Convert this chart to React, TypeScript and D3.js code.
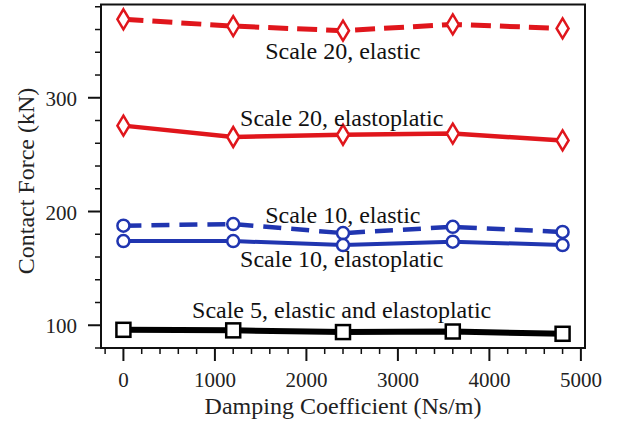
import React from "react";
import * as d3 from "d3";

const damping = [0, 1200, 2400, 3600, 4800];
const s20Elastic = [369, 363, 359, 364.5, 361];
const s20Elastoplastic = [275.5, 265.5, 267.5, 268.5, 262.5];
const s10Elastic = [187.5, 189, 181, 186.5, 182];
const s10Elastoplastic = [174, 174, 170.5, 173.5, 170.5];
const s5Both = [96, 95.5, 94, 94.5, 92.5];

const xTicks = [0, 1000, 2000, 3000, 4000, 5000];
const yTicks = [100, 200, 300];

const labels = ["Scale 20, elastic", "Scale 20, elastoplatic", "Scale 10, elastic", "Scale 10, elastoplatic", "Scale 5, elastic and elastoplatic"];
const labelX = [1550, 1275, 1550, 1275, 750];
const labelY = [334.5, 275, 189.5, 151, 106];

const W = 624, H = 426;
const left = 101, right = 585, top = 4.5, bottom = 348;
const FONT = "Liberation Serif, Tinos, Times New Roman, Times, serif";
const RED = "#e0161c";
const BLUE = "#2035b0";

export default function App() {
  const x = d3.scaleLinear().domain([-245, 5045]).range([left, right]);
  const y = d3.scaleLinear().domain([80, 382]).range([bottom, top]);
  const line = d3.line<number>().x((_, i) => x(damping[i])).y((v) => y(v));

  const xMinor = d3.range(-200, 5001, 200).filter((v) => v % 1000 !== 0);
  const yMinor = d3.range(80, 381, 20).filter((v) => v % 100 !== 0);

  const series = [
    { data: s20Elastic, color: RED, dash: "20 9", width: 5, marker: "diamond" },
    { data: s20Elastoplastic, color: RED, dash: null, width: 4.5, marker: "diamond" },
    { data: s10Elastic, color: BLUE, dash: "18 10", width: 4.5, marker: "circle" },
    { data: s10Elastoplastic, color: BLUE, dash: null, width: 4, marker: "circle" },
    { data: s5Both, color: "#000", dash: null, width: 6, marker: "square" },
  ];

  const marker = (type: string, cx: number, cy: number, color: string, key: string) => {
    if (type === "diamond") {
      const p = `M${cx},${cy - 10} L${cx + 6},${cy} L${cx},${cy + 10} L${cx - 6},${cy} Z`;
      return <path key={key} d={p} fill="#fff" stroke={color} strokeWidth={2.5} />;
    }
    if (type === "circle") {
      return <circle key={key} cx={cx} cy={cy} r={6} fill="#fff" stroke={color} strokeWidth={2.5} />;
    }
    return <rect key={key} x={cx - 7} y={cy - 7} width={14} height={14} fill="#fff" stroke={color} strokeWidth={2.5} />;
  };

  return (
    <svg width={W} height={H} style={{ position: "absolute", left: 0, top: 0, background: "#fff", fontFamily: FONT }}>
      <rect x={0} y={0} width={W} height={H} fill="#fff" />
      {series.map((s, si) => (
        <g key={si}>
          <path d={line(s.data) || ""} fill="none" stroke={s.color} strokeWidth={s.width} strokeDasharray={s.dash || undefined} />
          {s.data.map((v, i) => marker(s.marker, x(damping[i]), y(v), s.color, `${si}-${i}`))}
        </g>
      ))}
      {labels.map((t, i) => (
        <text key={t} x={x(labelX[i])} y={y(labelY[i])} fontSize={24} fill="#111">{t}</text>
      ))}
      <rect x={left} y={top} width={right - left} height={bottom - top} fill="none" stroke="#111" strokeWidth={2} />
      {yTicks.map((v) => (
        <g key={v}>
          <line x1={left - 13} x2={left} y1={y(v)} y2={y(v)} stroke="#111" strokeWidth={2} />
          <text x={left - 24} y={y(v) + 8} textAnchor="end" fontSize={21} fill="#222">{v}</text>
        </g>
      ))}
      {yMinor.map((v) => (
        <line key={v} x1={left - 6} x2={left} y1={y(v)} y2={y(v)} stroke="#111" strokeWidth={1.5} />
      ))}
      {xTicks.map((v) => (
        <g key={v}>
          <line x1={x(v)} x2={x(v)} y1={bottom} y2={bottom + 13} stroke="#111" strokeWidth={2} />
          <text x={x(v)} y={387} textAnchor="middle" fontSize={21} fill="#222">{v}</text>
        </g>
      ))}
      {xMinor.map((v) => (
        <line key={v} x1={x(v)} x2={x(v)} y1={bottom} y2={bottom + 6} stroke="#111" strokeWidth={1.5} />
      ))}
      <text x={(left + right) / 2} y={414} textAnchor="middle" fontSize={24} fill="#222">Damping Coefficient (Ns/m)</text>
      <text transform={`translate(34, ${181}) rotate(-90)`} textAnchor="middle" fontSize={24} fill="#222">Contact Force (kN)</text>
    </svg>
  );
}
